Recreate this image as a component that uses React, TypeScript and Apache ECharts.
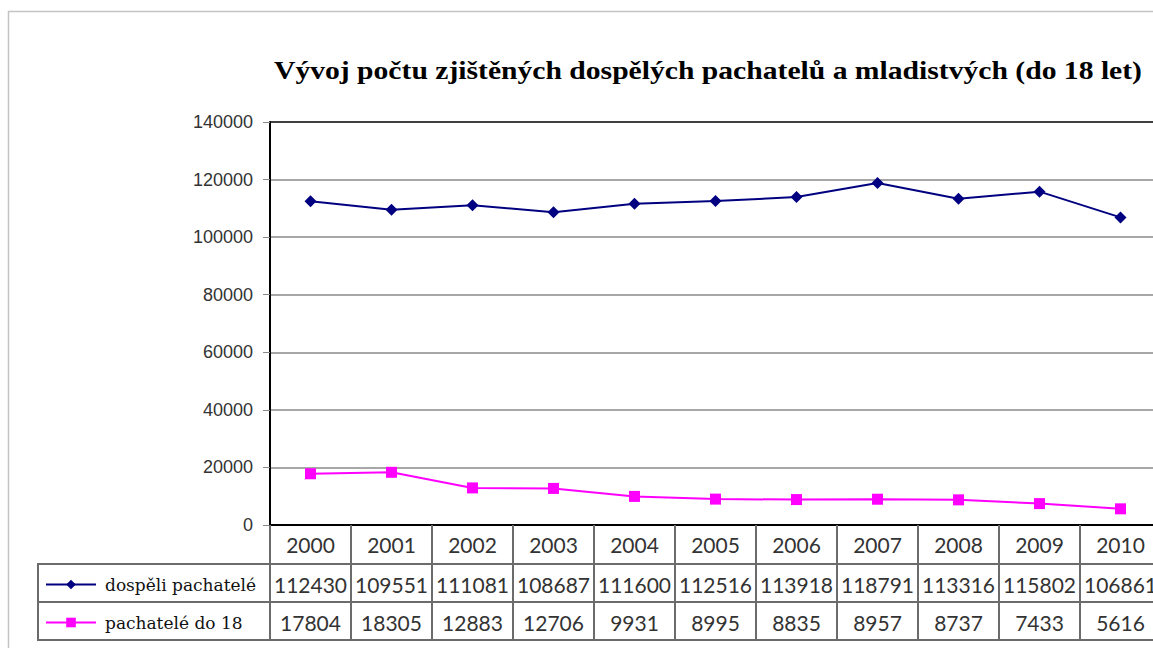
import React, { useEffect, useRef } from "react";
import * as echarts from "echarts";

const years = ["2000", "2001", "2002", "2003", "2004", "2005", "2006", "2007", "2008", "2009", "2010"];
const adults = [112430, 109551, 111081, 108687, 111600, 112516, 113918, 118791, 113316, 115802, 106861];
const youths = [17804, 18305, 12883, 12706, 9931, 8995, 8835, 8957, 8737, 7433, 5616];
const seriesNames = ["dospěli pachatelé", "pachatelé do 18"];
const titleText = "Vývoj počtu zjištěných dospělých pachatelů a mladistvých (do 18 let)";

export default function App() {
  const ref = useRef<HTMLDivElement>(null);
  useEffect(() => {
    if (!ref.current) return;
    const chart = echarts.init(ref.current, null, { renderer: "svg" });
    const tableLine = "#6b6b6b";
    const numFont = "Lato";
    const baseX = {
      type: "category" as const,
      data: years,
      boundaryGap: true,
      gridIndex: 0,
      position: "bottom" as const,
    };
    chart.setOption({
      animation: false,
      backgroundColor: "#fff",
      grid: { left: 270, top: 122, width: 891, height: 403, containLabel: false },
      legend: {
        orient: "vertical",
        left: 45,
        top: 576,
        padding: 0,
        itemWidth: 50,
        itemHeight: 12,
        itemGap: 21,
        data: seriesNames,
        textStyle: {
          fontFamily: "DejaVu Serif",
          fontSize: 17,
          color: "#111",
          lineHeight: 14,
          padding: [0, 0, 0, 4],
        },
      },
      xAxis: [
        {
          ...baseX,
          axisLine: { show: true, lineStyle: { color: "#000", width: 2 } },
          axisTick: { show: true, length: 116, lineStyle: { color: tableLine, width: 2 } },
          axisLabel: {
            interval: 0,
            margin: 19,
            verticalAlign: "middle",
            fontFamily: numFont,
            fontSize: 21,
            color: "#333",
          },
          splitLine: { show: false },
        },
        {
          ...baseX,
          axisLine: { show: false },
          axisTick: { show: false },
          axisLabel: {
            interval: 0,
            margin: 59,
            verticalAlign: "middle",
            fontFamily: numFont,
            fontSize: 21,
            color: "#333",
            formatter: (_v: string, i: number) => String(adults[i]),
          },
        },
        {
          ...baseX,
          axisLine: { show: false },
          axisTick: { show: false },
          axisLabel: {
            interval: 0,
            margin: 97,
            verticalAlign: "middle",
            fontFamily: numFont,
            fontSize: 21,
            color: "#333",
            formatter: (_v: string, i: number) => String(youths[i]),
          },
        },
      ],
      yAxis: {
        type: "value",
        min: 0,
        max: 140000,
        interval: 20000,
        axisLine: { show: true, lineStyle: { color: "#000", width: 2 } },
        axisTick: { show: true, length: 7, lineStyle: { color: "#888" } },
        axisLabel: {
          margin: 17,
          fontFamily: "Liberation Sans",
          fontSize: 18,
          color: "#333",
          formatter: (v: number) => String(v),
        },
        splitLine: {
          show: true,
          lineStyle: {
            color: ["#8a8a8a", "#8a8a8a", "#8a8a8a", "#8a8a8a", "#8a8a8a", "#8a8a8a", "#8a8a8a", "#000"],
            width: 1.5,
          },
        },
      },
      series: [
        {
          name: seriesNames[0],
          type: "line",
          data: adults,
          xAxisIndex: 0,
          symbol: "diamond",
          symbolSize: 12,
          lineStyle: { color: "#000080", width: 2 },
          itemStyle: { color: "#000080" },
        },
        {
          name: seriesNames[1],
          type: "line",
          data: youths,
          xAxisIndex: 0,
          symbol: "rect",
          symbolSize: 11,
          lineStyle: { color: "#ff00ff", width: 2 },
          itemStyle: { color: "#ff00ff" },
        },
      ],
      graphic: [
        {
          type: "rect",
          shape: { x: 8.5, y: 11.5, width: 1400, height: 1000 },
          style: { fill: "none", stroke: "#c4c4c4", lineWidth: 1.5 },
          silent: true,
          z: -1,
        },
        {
          type: "text",
          x: 274,
          y: 70,
          scaleX: 1.14,
          style: {
            text: titleText,
            fontFamily: "Liberation Serif",
            fontWeight: "bold",
            fontSize: 26,
            fill: "#000",
            verticalAlign: "middle",
            align: "left",
          },
        },
        {
          type: "line",
          shape: { x1: 38, y1: 564, x2: 1200, y2: 564 },
          style: { stroke: tableLine, lineWidth: 2 },
        },
        {
          type: "line",
          shape: { x1: 38, y1: 602, x2: 1200, y2: 602 },
          style: { stroke: tableLine, lineWidth: 2 },
        },
        {
          type: "line",
          shape: { x1: 38, y1: 640, x2: 1200, y2: 640 },
          style: { stroke: tableLine, lineWidth: 2 },
        },
        {
          type: "line",
          shape: { x1: 38, y1: 563, x2: 38, y2: 641 },
          style: { stroke: tableLine, lineWidth: 2 },
        },
      ],
    });
    return () => chart.dispose();
  }, []);
  return (
    <div style={{ position: "absolute", left: 0, top: 0, width: 1153, height: 648, overflow: "hidden", background: "#fff" }}>
      <div ref={ref} style={{ width: 1200, height: 648 }} />
    </div>
  );
}
